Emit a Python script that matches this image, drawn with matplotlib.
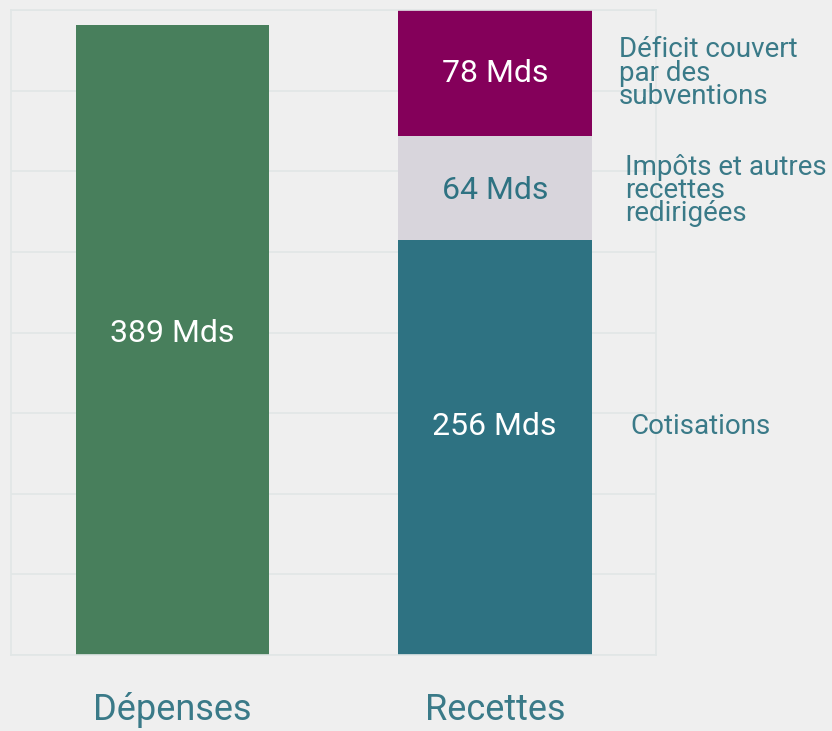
import numpy as np
import matplotlib.pyplot as plt

# données (milliards d'euros)
categories = ["Dépenses", "Recettes"]
depenses = 389
recettes_noms = ["Cotisations", "Impôts et autres\nrecettes\nredirigées",
                 "Déficit couvert\npar des\nsubventions"]
recettes_valeurs = [256, 64, 78]
recettes_couleurs = ["#2e7282", "#d8d5dc", "#84005a"]
recettes_txt = ["white", "#2e7282", "white"]

fond = "#efefef"
texte = "#3a7a88"

plt.rcParams['font.family'] = ['Roboto', 'DejaVu Sans']

fig = plt.figure(figsize=(8.32, 7.31), dpi=100, facecolor=fond)
ax = fig.add_axes([11 / 832, 1 - 655 / 731, 645 / 832, 645 / 731])
ax.set_facecolor(fond)

total = sum(recettes_valeurs)
ax.set_xlim(-0.5, 1.5)
ax.set_ylim(0, total)

# grille
for y in np.linspace(0, total, 9):
    ax.axhline(y, color="#e1e6e6", lw=1.2, zorder=0)
for sp in ax.spines.values():
    sp.set_color("#e1e6e6")
    sp.set_linewidth(1.2)

largeur = 0.6
ax.bar(0, depenses, width=largeur, color="#487f5c", zorder=2)
ax.text(0, depenses * 0.51, f"{depenses} Mds", ha="center", va="center",
        color="white", fontsize=23)

bas = 0
offsets = [0.55, 0.48, 0.5]
label_x = [1.42, 1.405, 1.385]
for v, nom, c, tc, f, lx in zip(recettes_valeurs, recettes_noms, recettes_couleurs,
                                recettes_txt, offsets, label_x):
    ax.bar(1, v, bottom=bas, width=largeur, color=c, zorder=2)
    ax.text(1, bas + v * f, f"{v} Mds", ha="center", va="center",
            color=tc, fontsize=23)
    ax.text(lx, bas + v * f, nom, ha="left", va="center", color=texte,
            fontsize=20, linespacing=0.82, clip_on=False)
    bas += v

ax.set_xticks([0, 1])
ax.set_xticklabels(categories, fontsize=26, color=texte)
ax.tick_params(axis="x", length=0, pad=27)
ax.set_yticks([])

plt.savefig("out.png", dpi=100, facecolor=fond)
